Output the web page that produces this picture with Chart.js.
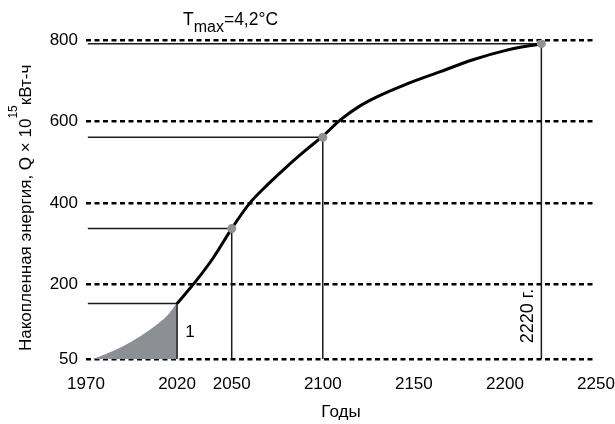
<!DOCTYPE html>
<html><head><meta charset="utf-8">
<script src="https://cdn.jsdelivr.net/npm/chart.js@4.4.1/dist/chart.umd.min.js"></script>
<style>html,body{margin:0;padding:0;background:#fff;} #c{display:block;}</style>
</head><body>
<canvas id="c" width="615" height="424"></canvas>
<script>
// ---- data ----
const xTickValues = [1970, 2020, 2050, 2100, 2150, 2200, 2250];
const yTickValues = [16, 200, 400, 600, 800];
const yTickLabels = ['50', '200', '400', '600', '800'];
const shadeYears  = [1974, 1980, 1990, 2000, 2010, 2015, 2020];
const shadeValues = [16, 26, 46, 72, 104, 124, 153];
const curveYears  = [2020, 2030, 2040, 2050, 2060, 2070, 2080, 2090, 2100, 2110, 2120, 2130, 2145, 2165, 2182, 2200, 2220];
const curveValues = [153, 206, 266, 337, 400, 446, 488, 527, 564, 605, 637, 661, 690, 723, 751, 774, 791];
const markYears   = [2020, 2050, 2100, 2220];
const markValues  = [153, 337, 561, 791];
const dotYears    = [2050, 2100, 2220];
const dotValues   = [337, 561, 791];
const lineStartYear = 1971;
const xMin = 1970, xMax = 2250, yMin = 16, yMax = 800;

const FONT = "'Liberation Sans', Arial, Helvetica, sans-serif";
Chart.defaults.font.family = FONT;
Chart.defaults.font.size = 17;
Chart.defaults.color = '#000';

const zip = (xs, ys) => xs.map((x, i) => ({x: x, y: ys[i]}));

const datasets = [];
datasets.push({
  data: zip(shadeYears, shadeValues), fill: 'start', backgroundColor: '#8c8f94',
  borderColor: '#8c8f94', borderWidth: 1, pointRadius: 0, cubicInterpolationMode: 'monotone', order: 5
});
markYears.forEach((yr, i) => {
  datasets.push({
    data: [{x: lineStartYear, y: markValues[i]}, {x: yr, y: markValues[i]}, {x: yr, y: yMin}],
    borderColor: '#1a1a1a', borderWidth: 1.5, pointRadius: 0, tension: 0, fill: false, order: 4
  });
});
datasets.push({
  data: zip(curveYears, curveValues), borderColor: '#000', borderWidth: 3, pointRadius: 0,
  cubicInterpolationMode: 'monotone', fill: false, order: 2
});
datasets.push({
  data: zip(dotYears, dotValues), showLine: false, pointRadius: 4.5, pointBackgroundColor: '#8e9196',
  pointBorderWidth: 0, borderColor: '#8e9196', order: 1
});

const annot = {
  id: 'annot',
  afterDraw(chart) {
    const {ctx, scales: {x, y}} = chart;
    ctx.save();
    ctx.fillStyle = '#000';
    // T_max label
    ctx.textAlign = 'left'; ctx.textBaseline = 'alphabetic';
    let tx = 183, ty = 25;
    ctx.font = '17.5px ' + FONT; ctx.fillText('T', tx, ty); tx += ctx.measureText('T').width;
    ctx.font = '16px ' + FONT; ctx.fillText('max', tx, ty + 7); tx += ctx.measureText('max').width;
    ctx.font = '17.5px ' + FONT; ctx.fillText('=4,2°C', tx, ty);
    // "1"
    ctx.font = '17px ' + FONT;
    ctx.textAlign = 'center'; ctx.textBaseline = 'middle';
    ctx.fillText('1', x.getPixelForValue(2020) + 13, 332.5);
    // 2220 г.
    ctx.save();
    ctx.translate(x.getPixelForValue(2220) - 8, 316);
    ctx.rotate(-Math.PI / 2);
    ctx.textAlign = 'center'; ctx.textBaseline = 'alphabetic';
    ctx.font = '18px ' + FONT;
    ctx.fillText('2220 г.', 0, 0);
    ctx.restore();
    // y axis title
    ctx.save();
    ctx.translate(30.5, 351);
    ctx.rotate(-Math.PI / 2);
    ctx.textAlign = 'left'; ctx.textBaseline = 'alphabetic';
    let px = 0;
    ctx.font = '17px ' + FONT;
    const p1 = 'Накопленная энергия, Q × 10';
    ctx.fillText(p1, px, 0); px += ctx.measureText(p1).width;
    ctx.font = '12px ' + FONT;
    ctx.fillText('15', px, -14); px += ctx.measureText('15').width;
    ctx.font = '17px ' + FONT;
    ctx.fillText('кВт-ч', px, 0);
    ctx.restore();
    ctx.restore();
  }
};

new Chart(document.getElementById('c'), {
  type: 'line',
  data: {datasets: datasets},
  plugins: [annot],
  options: {
    responsive: false, animation: false, devicePixelRatio: 1,
    layout: {padding: {top: 40, right: 19, left: 0, bottom: 0}},
    plugins: {legend: {display: false}, tooltip: {enabled: false}},
    scales: {
      x: {
        type: 'linear', min: xMin, max: xMax,
        grid: {display: false, drawTicks: false},
        border: {display: false},
        ticks: {padding: 14.5, autoSkip: false, maxRotation: 0, font: {size: 17}, callback: v => String(v)},
        afterBuildTicks: s => { s.ticks = xTickValues.map(v => ({value: v})); },
        afterFit: s => { s.height = 64.7; s.paddingLeft = 0; s.paddingRight = 0; },
        title: {display: true, text: 'Годы', font: {size: 17}, padding: {top: 0, bottom: 1}}
      },
      y: {
        type: 'linear', min: yMin, max: yMax,
        grid: {display: true, drawTicks: false, color: '#000', lineWidth: 2.5},
        border: {display: false, dash: [5, 3.5]},
        ticks: {padding: 8, autoSkip: false, font: {size: 17},
          callback: v => { const i = yTickValues.indexOf(v); return i >= 0 ? yTickLabels[i] : ''; }},
        afterBuildTicks: s => { s.ticks = yTickValues.map(v => ({value: v})); },
        afterFit: s => { s.width = 86; s.paddingTop = 0; s.paddingBottom = 0; }
      }
    }
  }
});
</script>
</body></html>
